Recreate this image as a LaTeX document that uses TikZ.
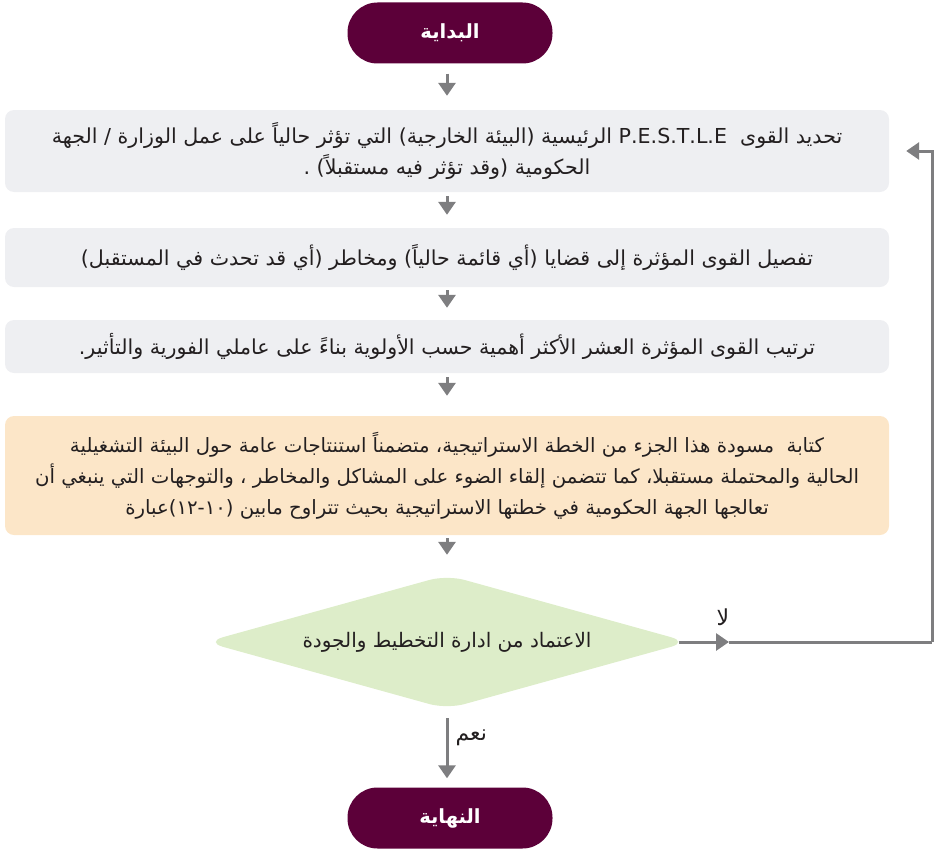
\documentclass[tikz,border=0pt]{standalone}
\usepackage{fontspec}
\usetikzlibrary{arrows.meta,shapes.geometric}
\TeXXeTstate=1
\newfontfamily\arabicfont[Script=Arabic]{DejaVu Sans}

\definecolor{plum}{HTML}{5C0039}
\definecolor{stepgray}{HTML}{EEEFF2}
\definecolor{peach}{HTML}{FCE6C8}
\definecolor{leaf}{HTML}{DDEDC9}
\definecolor{linkgray}{HTML}{7E7E80}
\definecolor{ink}{HTML}{231F20}

\tikzset{
  terminal/.style={rectangle, rounded corners=30pt, fill=plum, text=white,
    minimum width=205pt, minimum height=61pt, inner sep=0pt,
    font=\arabicfont\bfseries\fontsize{19.5}{22}\selectfont},
  stepbox/.style={rectangle, rounded corners=9pt, fill=stepgray, text=ink,
    minimum width=884pt, inner sep=0pt, align=center,
    font=\arabicfont\fontsize{20.6}{31}\selectfont},
  notebox/.style={stepbox, fill=peach, font=\arabicfont\fontsize{19.7}{31}\selectfont},
  decision/.style={diamond, aspect=3.6, rounded corners=18pt, fill=leaf, text=ink,
    minimum width=483pt, minimum height=134pt, inner sep=0pt,
    font=\arabicfont\fontsize{20}{22}\selectfont},
  link/.style={draw=linkgray, line width=3pt,
    -{Triangle[width=17pt,length=13pt]}},
  plain/.style={draw=linkgray, line width=3pt},
  tag/.style={text=ink, font=\arabicfont\fontsize{22}{24}\selectfont, inner sep=0pt}
}

\begin{document}
\begin{tikzpicture}[x=1pt,y=-1pt]
  \useasboundingbox (0,0) rectangle (934,851);

  % start / end terminals
  \node[terminal] (start) at (450,33) {\beginR البداية\endR};
  \node[terminal] (finish) at (450,818) {\beginR النهاية\endR};

  % process steps
  \node[stepbox, minimum height=82pt] (scan) at (447,151)
    {\beginR تحديد القوى \ \beginL P.E.S.T.L.E\endL{} الرئيسية (البيئة الخارجية) التي تؤثر حالياً على عمل الوزارة / الجهة\endR\\
     \beginR الحكومية (وقد تؤثر فيه مستقبلاً) .\endR};

  \node[stepbox, minimum height=59pt] (detail) at (447,257.5)
    {\beginR تفصيل القوى المؤثرة إلى قضايا (أي قائمة حالياً) ومخاطر (أي قد تحدث في المستقبل)\endR};

  \node[stepbox, minimum height=53pt] (rank) at (447,346.5)
    {\beginR ترتيب القوى المؤثرة العشر الأكثر أهمية حسب الأولوية بناءً على عاملي الفورية والتأثير.\endR};

  \node[notebox, minimum height=119pt] (draft) at (447,475.5)
    {\beginR كتابة \ مسودة هذا الجزء من الخطة الاستراتيجية، متضمناً استنتاجات عامة حول البيئة التشغيلية\endR\\
     \beginR الحالية والمحتملة مستقبلا، كما تتضمن إلقاء الضوء على المشاكل والمخاطر ، والتوجهات التي ينبغي أن\endR\\
     \beginR تعالجها الجهة الحكومية في خطتها الاستراتيجية بحيث تتراوح مابين (١٠-١٢)عبارة\endR};

  % approval decision
  \node[decision] (approve) at (447,642) {\beginR الاعتماد من ادارة التخطيط والجودة\endR};

  % loop-back helpers
  \coordinate (nomark) at (729,642);
  \coordinate (corner) at (932,642);

  % main flow
  \draw[link, shorten <=10pt, shorten >=14pt] (start.south -| scan.north) -- (scan);
  \draw[link, shorten <=4pt, shorten >=13pt] (scan) -- (detail);
  \draw[link, shorten <=3pt, shorten >=12pt] (detail) -- (rank);
  \draw[link, shorten <=4pt, shorten >=20pt] (rank) -- (draft);
  \draw[link, shorten <=3pt, shorten >=20pt] (draft) -- (approve);
  \draw[link, shorten <=9pt, shorten >=9pt] (approve) -- node[tag, right=7pt, pos=0.36] (yes) {\beginR نعم\endR} (finish.north -| approve.south);

  % "no" branch back to the first step
  \draw[link, shorten <=-10pt] (approve.east) -- (nomark);
  \draw[plain] (nomark) -- (corner);
  \draw[link, shorten >=17pt] (corner) |- (scan.east);
  \node[tag] (no) at (723,617) {\beginR لا\endR};
\end{tikzpicture}
\end{document}
